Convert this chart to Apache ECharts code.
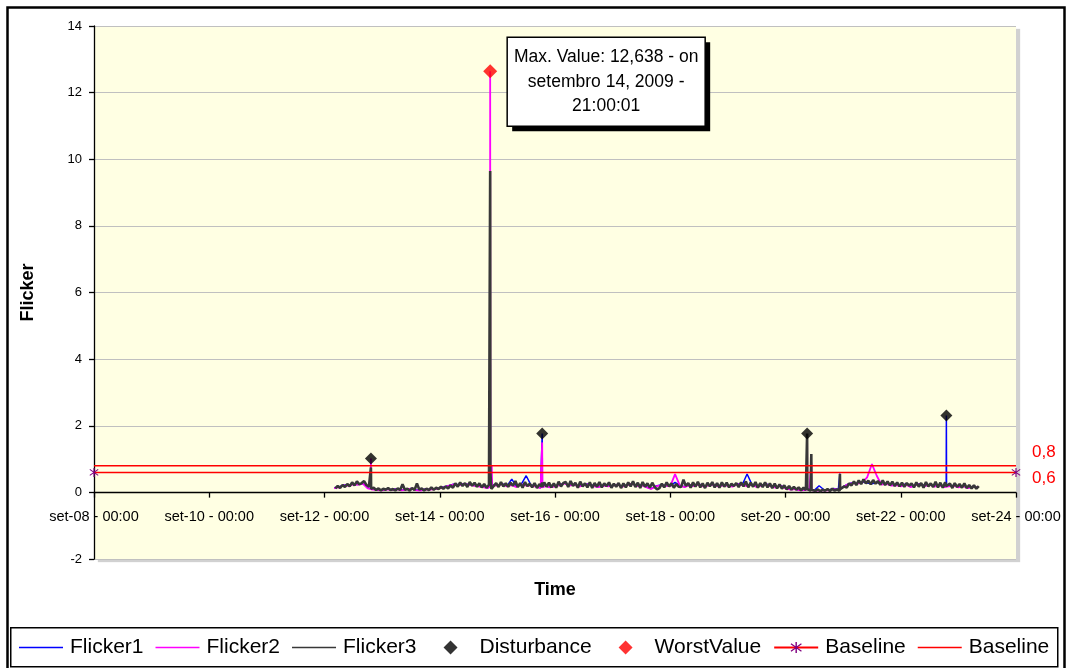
<!DOCTYPE html>
<html><head><meta charset="utf-8">
<script src="https://cdn.jsdelivr.net/npm/echarts@6/dist/echarts.min.js"></script>
<style>html,body{margin:0;padding:0;background:#fff}#c{width:1067px;height:668px}</style>
</head><body><div id="c"></div>
<script>
// ---- data ----
const axisStart = "2009-09-08 00:00";
const axisEnd = "2009-09-24 00:00";
const yTicks = [-2, 0, 2, 4, 6, 8, 10, 12, 14];
const legendNames = ['Flicker1','Flicker2','Flicker3','Disturbance','WorstValue','Baseline','Baseline '];

// Flicker1 / Flicker2: every 2 h from set-12 04:00
const flicker12Start = "2009-09-12 04:00";
const flicker12StepHours = 2;
// Flicker3: every hour from set-12 04:30
const flicker3Start = "2009-09-12 04:30";
const flicker3StepHours = 1;

const flicker1 = [
0.14,0.16,0.22,0.21,0.25,0.24,0.27,0.13,
0.09,0.08,0.07,0.10,
0.08,0.11,0.07,0.09,0.12,0.08,0.06,0.10,0.09,0.11,
0.13,0.17,0.21,0.25,0.23,0.26,0.24,0.21,0.19,0.17,0.14,0.23,
0.21,0.26,0.19,0.40,0.17,0.25,0.50,0.22,0.18,0.14,0.20,0.16,
0.19,0.23,0.28,0.21,0.24,0.18,0.22,0.26,0.20,0.17,0.21,0.19,
0.21,0.24,0.18,0.22,0.27,0.20,0.23,0.17,0.11,0.19,0.22,0.21,
0.19,0.30,0.21,0.17,0.23,0.20,0.25,0.18,0.22,0.24,0.19,0.22,
0.21,0.18,0.26,0.23,0.55,0.24,0.17,0.22,0.25,0.19,0.15,0.21,
0.13,0.09,0.11,0.07,0.08,0.10,0.06,0.20,0.08,0.07,0.12,0.09,
0.17,0.25,0.29,0.27,0.31,0.28,0.26,0.30,0.24,0.27,0.21,0.23,
0.19,0.25,0.17,0.22,0.26,0.20,0.24,0.18,0.23,0.17,0.19,0.21,
0.16,0.20,0.14,0.18,0.15];
const flicker2 = [
0.13,0.15,0.21,0.20,0.24,0.23,0.26,0.12,
0.08,0.07,0.06,0.09,
0.07,0.10,0.06,0.08,0.11,0.07,0.05,0.09,0.08,0.10,
0.12,0.16,0.20,0.24,0.22,0.25,0.23,0.20,0.18,0.16,0.13,0.22,
0.20,0.25,0.18,0.22,0.16,0.24,0.20,0.21,0.17,0.13,0.19,0.15,
0.18,0.22,0.27,0.20,0.23,0.17,0.21,0.25,0.19,0.16,0.20,0.18,
0.20,0.23,0.17,0.21,0.26,0.19,0.22,0.16,0.10,0.18,0.21,0.20,
0.18,0.55,0.20,0.16,0.22,0.19,0.24,0.17,0.21,0.23,0.18,0.21,
0.20,0.17,0.25,0.22,0.19,0.23,0.16,0.21,0.24,0.18,0.14,0.20,
0.12,0.08,0.10,0.06,0.07,0.09,0.05,0.05,0.07,0.06,0.10,0.08,
0.16,0.24,0.28,0.26,0.30,0.45,0.85,0.50,0.23,0.26,0.20,0.22,
0.18,0.24,0.16,0.21,0.25,0.19,0.23,0.17,0.22,0.16,0.18,0.20,
0.15,0.19,0.13,0.17,0.14];
const flicker3 = [
0.12,0.19,0.13,0.22,0.16,0.25,0.18,0.30,0.21,0.33,0.24,0.28,0.34,0.22,0.17,0.10,0.14,0.07,0.12,0.06,0.11,0.08,0.13,0.07,
0.10,0.06,0.12,0.07,0.24,0.08,0.11,0.05,0.13,0.07,0.27,0.08,0.12,0.06,0.11,0.07,0.15,0.08,0.14,0.10,0.17,0.11,0.18,0.12,
0.21,0.14,0.27,0.17,0.30,0.19,0.28,0.16,0.31,0.20,0.29,0.17,0.27,0.15,0.25,0.14,0.23,0.10,0.19,0.28,0.16,0.31,0.18,0.27,
0.17,0.29,0.20,0.34,0.16,0.28,0.14,0.31,0.19,0.26,0.15,0.28,0.13,0.25,0.16,0.30,0.17,0.29,0.15,0.27,0.14,0.32,0.18,0.28,
0.31,0.16,0.34,0.19,0.29,0.14,0.32,0.18,0.27,0.15,0.30,0.13,0.28,0.17,0.31,0.15,0.27,0.19,0.30,0.14,0.26,0.17,0.28,0.13,
0.27,0.15,0.30,0.18,0.33,0.16,0.29,0.13,0.31,0.17,0.27,0.14,0.29,0.16,0.09,0.13,0.26,0.15,0.30,0.18,0.27,0.14,0.25,0.17,
0.16,0.38,0.19,0.28,0.14,0.30,0.17,0.32,0.15,0.27,0.13,0.29,0.18,0.31,0.15,0.28,0.14,0.30,0.17,0.29,0.15,0.26,0.19,0.28,
0.16,0.30,0.18,0.33,0.15,0.29,0.17,0.31,0.14,0.28,0.16,0.30,0.15,0.27,0.13,0.26,0.12,0.24,0.11,0.21,0.09,0.19,0.08,0.17,
0.08,0.15,0.06,0.14,0.07,0.12,0.05,0.10,0.04,0.09,0.03,0.08,0.05,0.10,0.04,0.11,0.05,0.09,0.04,0.12,0.18,0.14,0.27,0.21,
0.33,0.22,0.36,0.25,0.39,0.27,0.35,0.24,0.37,0.26,0.34,0.23,0.36,0.22,0.33,0.21,0.32,0.19,0.30,0.18,0.29,0.17,0.28,0.20,
0.27,0.15,0.30,0.17,0.28,0.14,0.31,0.18,0.27,0.16,0.32,0.15,0.29,0.14,0.30,0.17,0.26,0.13,0.28,0.16,0.25,0.14,0.27,0.13,
0.22,0.12,0.21,0.11,0.19];

const flicker1Spikes = [
["2009-09-12 19:15",0.12],["2009-09-12 19:20",0.60],["2009-09-12 19:25",0.11],
["2009-09-14 20:55",0.17],["2009-09-14 21:00",9.00],["2009-09-14 21:05",0.50],
["2009-09-15 18:35",0.15],["2009-09-15 18:40",1.77],["2009-09-15 18:45",0.16],
["2009-09-20 08:55",0.10],["2009-09-20 09:00",1.50],["2009-09-20 09:05",0.10],
["2009-09-20 22:35",0.08],["2009-09-20 22:40",0.57],["2009-09-20 22:45",0.09],
["2009-09-22 18:55",0.18],["2009-09-22 19:00",2.31],["2009-09-22 19:05",0.19]];
const flicker2Spikes = [
["2009-09-12 19:15",0.10],["2009-09-12 19:20",1.02],["2009-09-12 19:25",0.09],
["2009-09-14 20:55",0.16],["2009-09-14 21:00",12.638],["2009-09-14 21:05",0.30],
["2009-09-14 21:40",0.80],["2009-09-14 21:50",0.20],
["2009-09-15 18:35",0.14],["2009-09-15 18:40",1.50],["2009-09-15 18:45",0.15],
["2009-09-20 08:55",0.08],["2009-09-20 09:00",1.65],["2009-09-20 09:05",0.08],
["2009-09-20 10:40",0.08],["2009-09-20 10:45",0.90],["2009-09-20 10:50",0.07]];
const flicker3Spikes = [
["2009-09-12 19:15",0.12],["2009-09-12 19:20",0.75],["2009-09-12 19:25",0.11],
["2009-09-14 20:55",0.18],["2009-09-14 21:00",9.65],["2009-09-14 21:05",0.60],
["2009-09-15 18:35",0.16],["2009-09-15 18:40",0.30],["2009-09-15 18:45",0.17],
["2009-09-20 08:55",0.10],["2009-09-20 09:00",1.77],["2009-09-20 09:05",0.10],
["2009-09-20 10:40",0.09],["2009-09-20 10:45",1.15],["2009-09-20 10:50",0.08],
["2009-09-20 22:35",0.09],["2009-09-20 22:40",0.55],["2009-09-20 22:45",0.10],
["2009-09-22 18:55",0.19],["2009-09-22 19:00",0.25],["2009-09-22 19:05",0.20]];

const disturbance = [["2009-09-12 19:20",1.02],["2009-09-15 18:40",1.77],["2009-09-20 09:00",1.77],["2009-09-22 19:00",2.31]];
const worstValue = [["2009-09-14 21:00",12.638]];
const worstLabelLines = ["Max. Value: 12,638 - on", "setembro 14, 2009 -", "21:00:01"];
const baselineStar = [[axisStart,0.6],[axisEnd,0.6]];
const baselineLine = [[axisStart,0.8],[axisEnd,0.8]];
const baselineStarLabel = "0,6";
const baselineLineLabel = "0,8";

// ---- helpers ----
function parseT(s){ const m = s.match(/(\d+)-(\d+)-(\d+) (\d+):(\d+)/); return Date.UTC(+m[1],+m[2]-1,+m[3],+m[4],+m[5]); }
function toHours(s){ return (parseT(s) - parseT(axisStart))/3600000; }
function buildSeries(base, start, step, spikes){
  const s0 = toHours(start);
  const pts = base.map((v,i)=>[s0 + i*step, v]).concat(spikes.map(p=>[toHours(p[0]), p[1]]));
  pts.sort((a,b)=>a[0]-b[0]);
  return pts;
}
const conv = arr => arr.map(p=>[toHours(p[0]), p[1]]);

const FONT = "'Liberation Sans', Arial, sans-serif";
const asterisk = 'path://M4.4,0H5.6V10H4.4Z M0.3,2.1L0.9,1.2L9.7,7.9L9.1,8.8Z M0.3,7.9L9.1,1.2L9.7,2.1L0.9,8.8Z';
const lineIcon = 'path://M0,0H44V1.6H0Z';
// diamond centred in a 44x14 box (degenerate corner points keep the box size)
const diamondIcon = 'path://M0,0L0.001,0L0,0Z M44,14L43.999,14L44,14Z M22,0L29,7L22,14L15,7Z';

const chart = echarts.init(document.getElementById('c'), null, {renderer:'canvas'});
chart.setOption({
  animation: false,
  textStyle: {fontFamily: FONT},
  grid: {left:94, right:51, top:26, bottom:109, show:true, backgroundColor:'#FFFFE3', borderWidth:0,
    shadowColor:'rgba(0,0,0,0.18)', shadowOffsetX:4, shadowOffsetY:3, shadowBlur:1},
  legend: {
    left: 14, top: 632, itemWidth: 44, itemHeight: 14, itemGap: 12, symbolKeepAspect: true,
    textStyle: {fontSize: 21, color:'#000', fontFamily: FONT, padding:[0,0,0,2]},
    formatter: n => n.trim(),
    data: [
      {name: legendNames[0], icon: lineIcon},
      {name: legendNames[1], icon: lineIcon},
      {name: legendNames[2], icon: lineIcon},
      {name: legendNames[3], icon: diamondIcon},
      {name: legendNames[4], icon: diamondIcon},
      {name: legendNames[5]},
      {name: legendNames[6], icon: lineIcon}
    ]
  },
  xAxis: {
    type: 'value', min: toHours(axisStart), max: toHours(axisEnd), interval: 48,
    name: 'Time', nameLocation: 'middle', nameGap: 88,
    nameTextStyle: {fontSize: 18, fontWeight: 'bold', color:'#000', fontFamily: FONT},
    axisLine: {onZero: false, lineStyle: {color:'#000', width:1.3}},
    axisTick: {show:true, length:5, lineStyle:{color:'#000', width:1.3}},
    axisLabel: {fontSize: 14.5, color:'#000', margin: 17, fontFamily: FONT,
      formatter: v => { const d = 8 + Math.round(v/24); return 'set-' + (d<10?'0'+d:d) + ' - 00:00'; }},
    splitLine: {show:false}
  },
  yAxis: {
    type: 'value', min: yTicks[0], max: yTicks[yTicks.length-1], interval: 2,
    name: 'Flicker', nameLocation: 'middle', nameGap: 57,
    nameTextStyle: {fontSize: 18, fontWeight: 'bold', color:'#000', fontFamily: FONT},
    axisLine: {show:true, onZero:false, lineStyle:{color:'#000', width:1.3}},
    axisTick: {show:true, length:5, lineStyle:{color:'#000', width:1.3}},
    axisLabel: {fontSize: 13, color:'#000', margin: 12, fontFamily: FONT},
    splitLine: {show:true, lineStyle:{color:'#C0C0C0', width:1}}
  },
  series: [
    {name:legendNames[0], type:'line', symbol:'none', data: buildSeries(flicker1, flicker12Start, flicker12StepHours, flicker1Spikes), lineStyle:{color:'#0000FF', width:1.5}, itemStyle:{color:'#0000FF'}, z:2},
    {name:legendNames[1], type:'line', symbol:'none', data: buildSeries(flicker2, flicker12Start, flicker12StepHours, flicker2Spikes), lineStyle:{color:'#FF00FF', width:1.8}, itemStyle:{color:'#FF00FF'}, z:3},
    {name:legendNames[2], type:'line', symbol:'none', data: buildSeries(flicker3, flicker3Start, flicker3StepHours, flicker3Spikes), lineStyle:{color:'#383838', width:2.6}, itemStyle:{color:'#383838'}, z:4},
    {name:legendNames[3], type:'scatter', symbol:'diamond', symbolSize:12, data: conv(disturbance), itemStyle:{color:'#000'}, z:6},
    {name:legendNames[4], type:'scatter', symbol:'diamond', symbolSize:14, data: conv(worstValue), itemStyle:{color:'#FF0000'}, z:7},
    {name:legendNames[5], type:'line', symbol: asterisk, symbolSize:9, showSymbol:true, data: conv(baselineStar),
      lineStyle:{color:'#FF0000', width:1.5}, itemStyle:{color:'#800080'}, z:5,
      endLabel:{show:true, formatter: baselineStarLabel, color:'#FF0000', fontSize:17, distance:16, offset:[0,6], fontFamily: FONT}},
    {name:legendNames[6], type:'line', symbol:'none', data: conv(baselineLine),
      lineStyle:{color:'#FF0000', width:1.5}, itemStyle:{color:'#FF0000'}, z:5,
      endLabel:{show:true, formatter: baselineLineLabel, color:'#FF0000', fontSize:17, distance:16, offset:[0,-13], fontFamily: FONT}}
  ]
});

// move the x axis onto the zero line (labels and name follow it)
const yZero = chart.convertToPixel({yAxisIndex:0}, 0);
const yBottom = chart.convertToPixel({yAxisIndex:0}, yTicks[0]);
// callout box next to the worst value
const wp = chart.convertToPixel({seriesIndex:4}, conv(worstValue)[0]);
const boxX = wp[0] + 17, boxY = wp[1] - 34, boxW = 198, boxH = 89;
chart.setOption({
  xAxis: {offset: yZero - yBottom},
  graphic: [
    {type:'rect', left:5, top:5, shape:{width:1057, height:670}, style:{fill:'none', stroke:'#000', lineWidth:2.5}, z:-1, silent:true},
    {type:'rect', left:10, top:627, shape:{width:1047, height:39}, style:{fill:'#fff', stroke:'#000', lineWidth:1.5}, z:-1, silent:true},
    {type:'rect', x: boxX + 5, y: boxY + 5, shape:{width:boxW, height:boxH}, style:{fill:'#000'}, z:100},
    {type:'rect', x: boxX, y: boxY, shape:{width:boxW, height:boxH}, style:{fill:'#fff', stroke:'#000', lineWidth:1.5}, z:101},
    {type:'text', x: boxX + boxW/2, y: boxY + boxH/2, z:102,
      style:{text: worstLabelLines.join('\n'), fill:'#000', font: "17.5px " + FONT, lineHeight:24.5, align:'center', verticalAlign:'middle'}}
  ]
});
</script>
</body></html>
